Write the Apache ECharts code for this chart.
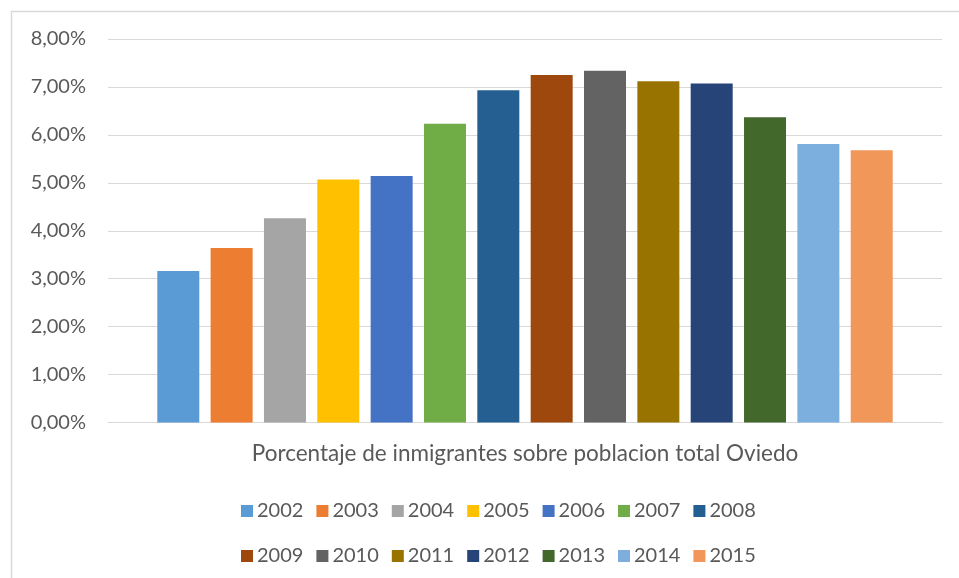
<!DOCTYPE html>
<html>
<head>
<meta charset="utf-8">
<script src="https://cdn.jsdelivr.net/npm/echarts@6/dist/echarts.min.js"></script>
<style>html,body{margin:0;padding:0;background:#fff}#c{width:959px;height:578px}</style>
</head>
<body>
<div id="c"></div>
<script>
const categories = ['Porcentaje de inmigrantes sobre poblacion total Oviedo'];
const years = ['2002','2003','2004','2005','2006','2007','2008','2009','2010','2011','2012','2013','2014','2015'];
const values = [3.16, 3.64, 4.26, 5.07, 5.14, 6.23, 6.93, 7.25, 7.34, 7.12, 7.07, 6.37, 5.81, 5.68];
const colors = ['#5B9BD5','#ED7D31','#A5A5A5','#FFC000','#4472C4','#70AD47','#255E91','#9E480E','#636363','#997300','#264478','#43682B','#7CAFDD','#F1975A'];
const yTicks = {min: 0, max: 8, interval: 1};

const FONT = 'Lato';
const TXT = '#595959';
const chart = echarts.init(document.getElementById('c'), null, {renderer: 'canvas'});
const series = years.map((y, i) => ({
  name: y,
  type: 'bar',
  data: [values[i]],
  barWidth: 42,
  barGap: '27%',
  itemStyle: {color: colors[i]}
}));
const legendCommon = {
  left: 236,
  icon: 'rect',
  itemWidth: 12,
  itemHeight: 12,
  itemGap: 13,
  textStyle: {fontFamily: FONT, fontSize: 20, color: TXT, padding: [0, 0, 0, -1]}
};
chart.setOption({
  animation: false,
  backgroundColor: '#fff',
  color: colors,
  graphic: [{
    type: 'rect', left: 9, top: 9, silent: true,
    shape: {x: 0, y: 0, width: 970, height: 600},
    style: {fill: 'none', stroke: '#d9d9d9', lineWidth: 1.5}
  }],
  grid: {left: 108, right: 17, top: 39, bottom: 155.5},
  legend: [
    Object.assign({}, legendCommon, {top: 496, data: years.slice(0, 7)}),
    Object.assign({}, legendCommon, {top: 541, data: years.slice(7)})
  ],
  xAxis: {
    type: 'category',
    data: categories,
    axisLine: {show: true, lineStyle: {color: '#d9d9d9', width: 1}},
    axisTick: {show: false},
    axisLabel: {fontFamily: FONT, fontSize: 22.5, color: TXT, margin: 20}
  },
  yAxis: {
    type: 'value',
    min: yTicks.min, max: yTicks.max, interval: yTicks.interval,
    axisLine: {show: false},
    axisTick: {show: false},
    splitLine: {lineStyle: {color: '#d9d9d9', width: 1}},
    axisLabel: {
      fontFamily: FONT, fontSize: 20, color: TXT, margin: 22,
      formatter: v => v.toFixed(2).replace('.', ',') + '%'
    }
  },
  series: series
});
</script>
</body>
</html>
